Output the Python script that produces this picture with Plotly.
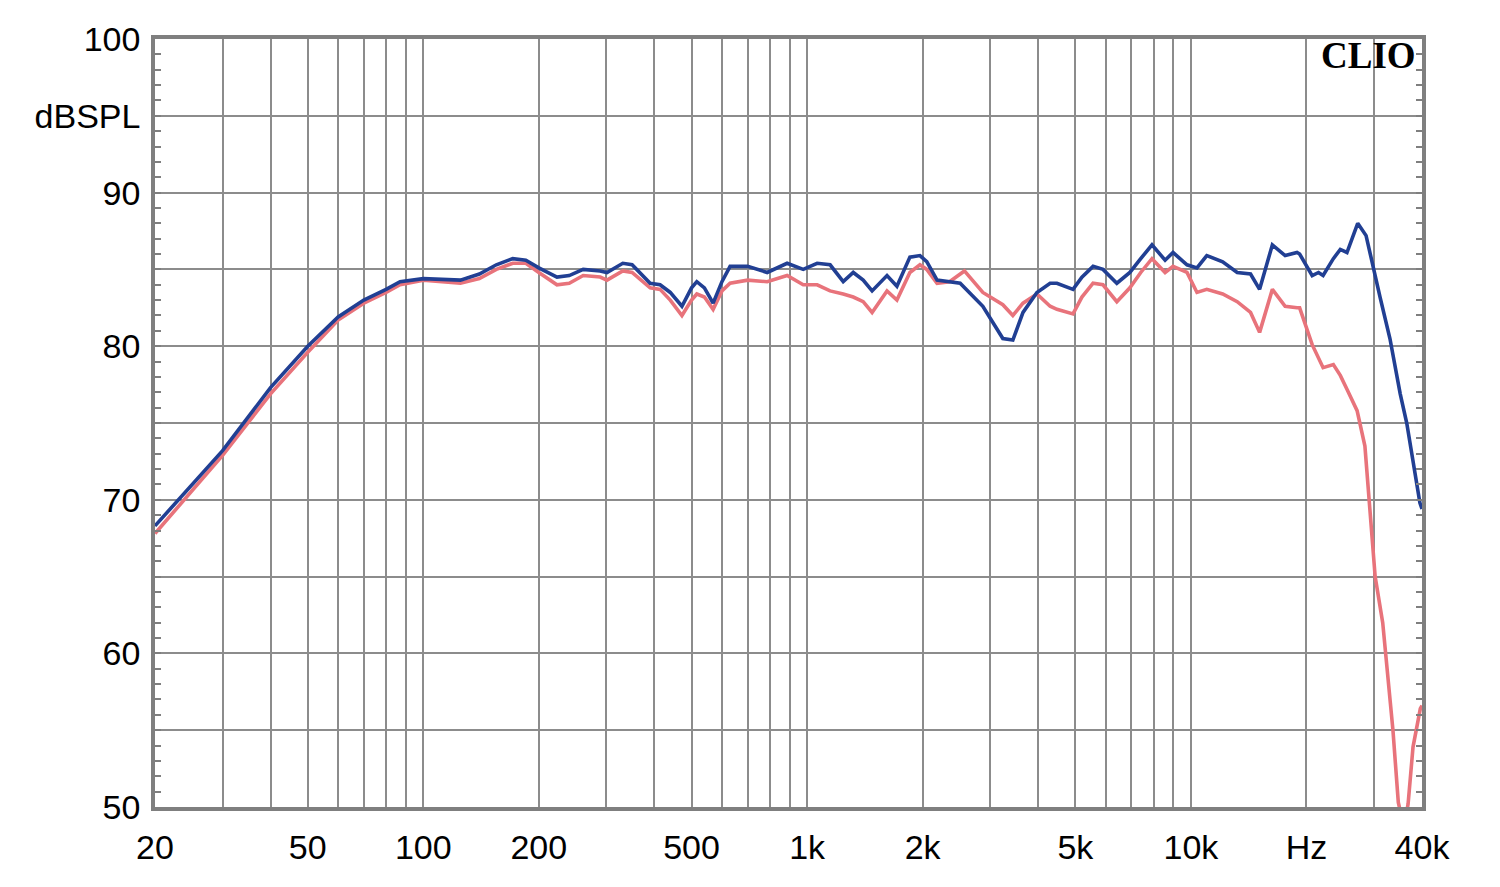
import plotly.graph_objects as go

# ---- data (frequency in Hz, level in dB SPL) ----
blue_freq = [20, 30, 40, 50, 60, 70, 80, 87, 100, 125, 140, 155, 171, 185, 200, 223, 240, 261,
             289, 301, 331, 350, 390, 414, 440, 472, 500, 516, 540, 569, 600, 630, 700, 787,
             887, 977, 1062, 1148, 1242, 1319, 1400, 1477, 1615, 1714, 1853, 1968, 2050, 2181,
             2505, 2870, 3236, 3436, 3652, 3970, 4297, 4477, 4930, 5200, 5560, 5900, 6412,
             6934, 7400, 7918, 8565, 8983, 9768, 10370, 11000, 12100, 13200, 14300, 15100,
             16300, 17600, 18900, 19200, 20700, 21500, 22100, 23500, 24500, 25500, 27200,
             28600, 29800, 31100, 33000, 35100, 36500, 39500, 40000]
blue_db = [68.3, 73.2, 77.3, 80.0, 81.9, 83.0, 83.7, 84.2, 84.4, 84.3, 84.7, 85.3, 85.7, 85.6,
           85.1, 84.5, 84.6, 85.0, 84.9, 84.8, 85.4, 85.3, 84.1, 84.0, 83.5, 82.6, 83.8, 84.2,
           83.8, 82.8, 84.2, 85.2, 85.2, 84.8, 85.4, 85.0, 85.4, 85.3, 84.2, 84.8, 84.3, 83.6,
           84.6, 83.9, 85.8, 85.9, 85.5, 84.3, 84.1, 82.6, 80.5, 80.4, 82.2, 83.5, 84.1, 84.1,
           83.7, 84.5, 85.2, 85.0, 84.1, 84.8, 85.7, 86.6, 85.6, 86.1, 85.3, 85.1, 85.9, 85.5,
           84.8, 84.7, 83.7, 86.6, 85.9, 86.1, 86.0, 84.6, 84.8, 84.6, 85.7, 86.3, 86.1, 88.0,
           87.2, 85.1, 83.2, 80.5, 76.9, 75.0, 69.8, 69.4]

red_freq = [20, 30, 40, 50, 60, 70, 80, 87, 100, 125, 140, 155, 171, 185, 200, 223, 240, 261,
            289, 301, 331, 350, 390, 414, 440, 472, 500, 516, 540, 569, 600, 630, 700, 787,
            887, 977, 1062, 1148, 1242, 1319, 1400, 1477, 1615, 1714, 1853, 1968, 2050, 2181,
            2350, 2570, 2870, 3236, 3436, 3652, 3970, 4297, 4477, 4930, 5200, 5560, 5900,
            6412, 6934, 7400, 7918, 8565, 8983, 9768, 10370, 11000, 12100, 13200, 14300,
            15100, 16300, 17600, 18900, 19200, 20700, 22100, 23500, 24500, 25500, 27100,
            28400, 29300, 30200, 31600, 32600, 33600, 34700, 35500, 36200, 36800, 37900,
            39600, 40000]
red_db = [67.8, 72.9, 76.9, 79.6, 81.7, 82.8, 83.5, 84.0, 84.3, 84.1, 84.4, 85.0, 85.4, 85.4,
          84.8, 84.0, 84.1, 84.6, 84.5, 84.3, 84.9, 84.8, 83.8, 83.7, 83.0, 82.0, 83.0, 83.4,
          83.2, 82.4, 83.6, 84.1, 84.3, 84.2, 84.6, 84.0, 84.0, 83.6, 83.4, 83.2, 82.9, 82.2,
          83.6, 83.0, 84.8, 85.3, 85.0, 84.1, 84.2, 84.9, 83.5, 82.7, 82.0, 82.8, 83.4, 82.6,
          82.4, 82.1, 83.2, 84.1, 84.0, 82.9, 83.8, 84.8, 85.7, 84.8, 85.2, 84.8, 83.5, 83.7,
          83.4, 82.9, 82.2, 80.9, 83.7, 82.6, 82.5, 82.5, 80.1, 78.6, 78.8, 78.1, 77.2, 75.8,
          73.5, 69.5, 65.0, 62.0, 58.7, 55.0, 50.3, 49.2, 49.2, 50.2, 53.9, 56.4, 56.6]

x_tick_vals = [20, 50, 100, 200, 500, 1000, 2000, 5000, 10000, 20000, 40000]
x_tick_text = ["20", "50", "100", "200", "500", "1k", "2k", "5k", "10k", "Hz", "40k"]
x_grid_vals = [30, 40, 60, 70, 80, 90, 300, 400, 600, 700, 800, 900,
               3000, 4000, 6000, 7000, 8000, 9000, 30000]

y_tick_vals = [50, 55, 60, 65, 70, 75, 80, 85, 90, 95, 100]
y_tick_text = ["50", "", "60", "", "70", "", "80", "", "90", "dBSPL", "100"]

BLUE = "#213f93"
RED = "#e8737b"
GRID = "#8c8c8c"
FRAME = "#7f7f7f"

fig = go.Figure()
fig.add_trace(go.Scatter(x=red_freq, y=red_db, mode="lines",
                         line=dict(color=RED, width=3.6), showlegend=False))
fig.add_trace(go.Scatter(x=blue_freq, y=blue_db, mode="lines",
                         line=dict(color=BLUE, width=3.6), showlegend=False))

fig.update_layout(
    width=1484, height=871,
    margin=dict(l=147, r=70, t=31, b=72),
    paper_bgcolor="white", plot_bgcolor="white",
    font=dict(family="Liberation Sans, Arial, sans-serif", size=34, color="black"),
    xaxis=dict(
        type="log", range=[1.30103, 4.60206],
        tickmode="array", tickvals=x_tick_vals, ticktext=x_tick_text,
        showgrid=True, gridcolor=GRID, gridwidth=1.5,
        ticks="", ticklabelstandoff=7,
        showline=True, linecolor=FRAME, linewidth=3.5, mirror=True,
        zeroline=False,
        minor=dict(tickmode="array", tickvals=x_grid_vals, showgrid=True,
                   gridcolor=GRID, gridwidth=1.5, ticks=""),
    ),
    yaxis=dict(
        range=[50, 100],
        tickmode="array", tickvals=y_tick_vals, ticktext=y_tick_text,
        showgrid=True, gridcolor=GRID, gridwidth=1.5,
        ticks="inside", ticklen=6, tickcolor=FRAME, tickwidth=1.5,
        ticklabelstandoff=4,
        showline=True, linecolor=FRAME, linewidth=3.5, mirror="ticks",
        zeroline=False,
        minor=dict(dtick=1, ticks="inside", ticklen=6, tickcolor=FRAME,
                   tickwidth=1.5, showgrid=False),
    ),
    shapes=[dict(type="rect", xref="paper", yref="paper", x0=0.921, x1=0.999,
                 y0=0.9635, y1=0.999, fillcolor="white", line=dict(width=0),
                 layer="between")],
    annotations=[dict(
        text="<b>CLIO</b>", xref="paper", yref="paper", x=0.996, y=0.979,
        xanchor="right", yanchor="middle", showarrow=False,
        font=dict(family="Liberation Serif, Times New Roman, serif", size=37, color="black"),
        borderpad=0,
    )],
)

fig.write_html("out.html")
